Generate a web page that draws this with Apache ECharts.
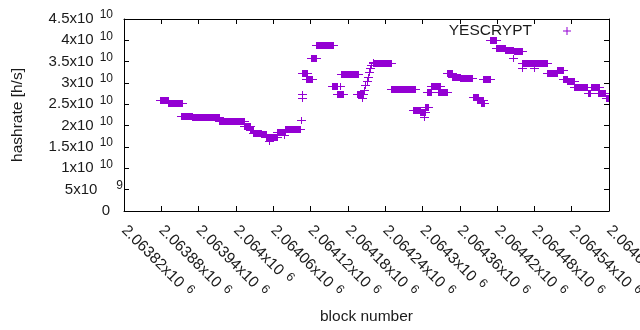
<!DOCTYPE html>
<html>
<head>
<meta charset="utf-8">
<script src="https://cdn.jsdelivr.net/npm/echarts@6/dist/echarts.min.js"></script>
<style>
html, body { margin: 0; padding: 0; background: #fff; }
#chart { width: 640px; height: 330px; }
</style>
</head>
<body>
<div id="chart"></div>
<script>
// runs of blocks that share one hashrate value (start block, end block, hashrate in 1e10 h/s)
var runStart = [
    2063878, 2063890, 2063912, 2063930, 2063972, 2064013, 2064023, 2064028, 2064041, 2064048,
    2064053, 2064058, 2064066, 2064078, 2064079, 2064104, 2064106, 2064106, 2064107, 2064113,
    2064120, 2064129, 2064155, 2064167, 2064162, 2064169, 2064194, 2064202, 2064206, 2064208,
    2064210, 2064212, 2064214, 2064216, 2064218, 2064220, 2064221, 2064250, 2064285, 2064296,
    2064302, 2064304, 2064307, 2064314, 2064325, 2064339, 2064347, 2064360, 2064382, 2064387,
    2064394, 2064398, 2064409, 2064419, 2064433, 2064446, 2064447, 2064460, 2064460, 2064480,
    2064501, 2064516, 2064526, 2064533, 2064544, 2064566, 2064571, 2064583, 2064595
];
var runEnd = [
    2063890, 2063913, 2063930, 2063972, 2064013, 2064023, 2064028, 2064041, 2064048, 2064058,
    2064053, 2064066, 2064079, 2064078, 2064103, 2064104, 2064106, 2064106, 2064114, 2064122,
    2064129, 2064156, 2064162, 2064167, 2064172, 2064197, 2064205, 2064202, 2064206, 2064208,
    2064210, 2064212, 2064214, 2064216, 2064218, 2064220, 2064250, 2064288, 2064296, 2064304,
    2064302, 2064309, 2064314, 2064328, 2064339, 2064347, 2064360, 2064379, 2064390, 2064398,
    2064399, 2064408, 2064419, 2064433, 2064445, 2064446, 2064460, 2064500, 2064460, 2064480,
    2064516, 2064526, 2064533, 2064543, 2064565, 2064570, 2064584, 2064594, 2064602
];
var runHashrate = [
    2.59, 2.52, 2.22, 2.20, 2.10, 1.985, 1.90, 1.835, 1.80, 1.73,
    1.65, 1.74, 1.86, 1.78, 1.93, 2.13, 2.74, 2.64, 3.23, 3.09,
    3.58, 3.88, 2.94, 2.94, 2.735, 3.20, 2.735, 2.64, 2.84, 2.95,
    3.05, 3.15, 3.25, 3.35, 3.42, 3.50, 3.46, 2.85, 2.37, 2.31,
    2.21, 2.44, 2.80, 2.92, 2.79, 3.23, 3.14, 3.11, 2.67, 2.59,
    2.53, 3.09, 4.01, 3.81, 3.77, 3.59, 3.75, 3.46, 3.36, 3.36,
    3.23, 3.30, 3.09, 3.04, 2.90, 2.76, 2.90, 2.76, 2.66
];
var seriesName = 'YESCRYPT';
var xMin = 2063820, xMax = 2064600, xStep = 60;
var yMin = 0, yMax = 4.5e10, yStep = 5e9;

var purple = '#9400d3';
var font = '"Liberation Sans", Arial, sans-serif';
var ink = '#1a1a1a';

var runs = [];
for (var i = 0; i < runStart.length; i++) {
    runs.push([runStart[i], runEnd[i], runHashrate[i] * 1e10]);
}

// gnuplot style "2.5x10^10" labels
function sciLabel(v, expStyle) {
    if (v === 0) return '{zero|0}';
    var e = Math.floor(Math.log10(v) + 1e-9);
    var m = parseFloat((v / Math.pow(10, e)).toFixed(5));
    return '{m|' + m + 'x10}{' + expStyle(e) + '|' + e + '}';
}

// a run of '+' marks, so dense they merge into a bar
function renderRun(params, api) {
    var p0 = api.coord([api.value(0), api.value(2)]);
    var p1 = api.coord([api.value(1), api.value(2)]);
    var x0 = Math.round(p0[0]), x1 = Math.round(p1[0]), y = Math.round(p0[1]);
    return {
        type: 'group',
        children: [
            {type: 'rect', shape: {x: x0, y: y - 3, width: x1 - x0 + 1, height: 7}, style: {fill: purple}},
            {type: 'rect', shape: {x: x0 - 4, y: y, width: x1 - x0 + 9, height: 1}, style: {fill: purple}}
        ]
    };
}

var chart = echarts.init(document.getElementById('chart'));
var option = {
    animation: false,
    grid: {left: 124, right: 31, top: 19, bottom: 119, outerBoundsMode: 'none'},
    legend: {
        data: [{name: seriesName, icon: 'path://M0,3.5H8V4.5H0Z M3.5,0H4.5V8H3.5Z'}],
        right: 69, top: 23, align: 'right', padding: 0,
        itemWidth: 60, itemHeight: 8, selectedMode: false,
        itemStyle: {color: purple},
        textStyle: {fontFamily: font, fontSize: 15.5, color: ink}
    },
    xAxis: [
        {
            type: 'value', position: 'bottom', min: xMin, max: xMax, interval: xStep,
            name: 'block number', nameLocation: 'middle', nameGap: 98,
            nameTextStyle: {fontFamily: font, fontSize: 15.5, color: ink},
            axisLine: {onZero: false, lineStyle: {color: '#000', width: 1}},
            axisTick: {inside: true, length: 5, lineStyle: {color: '#000'}},
            splitLine: {show: false},
            axisLabel: {
                rotate: -45, margin: 17, showMinLabel: true, showMaxLabel: true, hideOverlap: false,
                formatter: function (v) { return sciLabel(v, function () { return 'e'; }); },
                rich: {
                    m: {fontFamily: font, fontSize: 15.5, color: ink, lineHeight: 20},
                    e: {fontFamily: font, fontSize: 12.5, color: ink, lineHeight: 12, verticalAlign: 'top', padding: [0, 0, 0, 6]}
                }
            }
        },
        {
            type: 'value', position: 'top', min: xMin, max: xMax, interval: xStep,
            axisLine: {onZero: false, lineStyle: {color: '#000', width: 1}},
            axisTick: {inside: true, length: 5, lineStyle: {color: '#000'}},
            splitLine: {show: false},
            axisLabel: {show: false}
        }
    ],
    yAxis: [
        {
            type: 'value', position: 'left', min: yMin, max: yMax, interval: yStep,
            name: 'hashrate [h/s]', nameLocation: 'middle', nameGap: 98,
            nameTextStyle: {fontFamily: font, fontSize: 15.5, color: ink},
            axisLine: {show: true, onZero: false, lineStyle: {color: '#000', width: 1}},
            axisTick: {show: true, inside: true, length: 5, lineStyle: {color: '#000'}},
            splitLine: {show: false},
            axisLabel: {
                margin: 1,
                formatter: function (v) { return sciLabel(v, function (e) { return e < 10 ? 'e9' : 'e'; }); },
                rich: {
                    m: {fontFamily: font, fontSize: 15, color: ink, lineHeight: 20},
                    e: {fontFamily: font, fontSize: 12, color: ink, lineHeight: 12, verticalAlign: 'top', padding: [0, 10, 0, 6]},
                    e9: {fontFamily: font, fontSize: 12, color: ink, lineHeight: 12, verticalAlign: 'top', padding: [0, 0, 0, 19]},
                    zero: {fontFamily: font, fontSize: 15, color: ink, lineHeight: 20, padding: [0, 13, 0, 0]}
                }
            }
        },
        {
            type: 'value', position: 'right', min: yMin, max: yMax, interval: yStep,
            axisLine: {show: true, onZero: false, lineStyle: {color: '#000', width: 1}},
            axisTick: {show: true, inside: true, length: 5, lineStyle: {color: '#000'}},
            splitLine: {show: false},
            axisLabel: {show: false}
        }
    ],
    series: [
        {
            name: seriesName,
            type: 'custom',
            xAxisIndex: 0, yAxisIndex: 0,
            clip: true,
            itemStyle: {color: purple},
            renderItem: renderRun,
            encode: {x: [0, 1], y: 2},
            data: runs
        }
    ]
};
chart.setOption(option);
</script>
</body>
</html>
